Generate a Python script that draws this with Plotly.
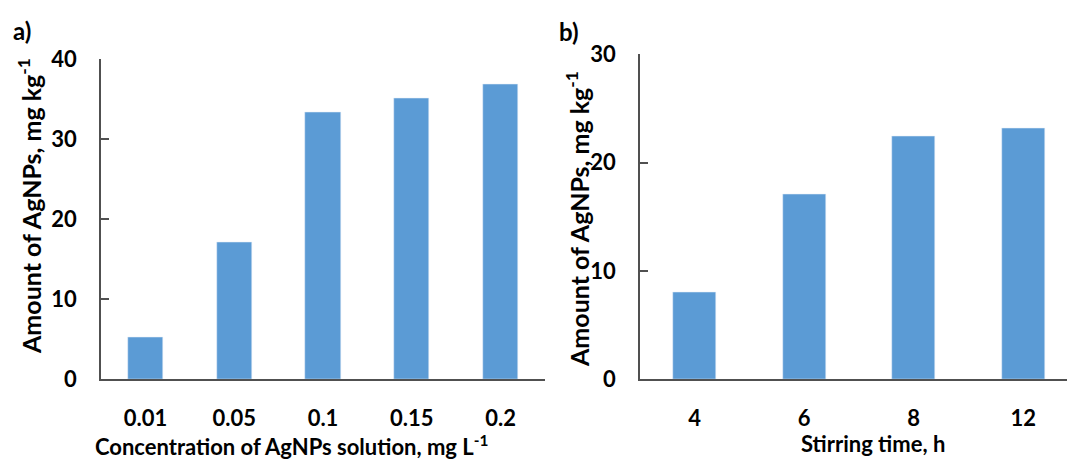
import plotly.graph_objects as go

conc_labels = ["0.01", "0.05", "0.1", "0.15", "0.2"]
conc_values = [5.2, 17.1, 33.4, 35.1, 36.9]

time_labels = ["4", "6", "8", "12"]
time_values = [8.0, 17.1, 22.4, 23.2]

W, H = 1067, 462
BAR = "#5B9BD5"
AX = "#505050"
FONT = "Lato"

def px_x(v):
    return v / W

def px_y(v):
    return 1 - v / H

fig = go.Figure()
fig.add_trace(go.Bar(x=list(range(len(conc_labels))), y=conc_values, marker_color=BAR,
                     width=0.395, xaxis="x", yaxis="y", showlegend=False))
fig.add_trace(go.Bar(x=list(range(len(time_labels))), y=time_values, marker_color=BAR,
                     width=0.395, xaxis="x2", yaxis="y2", showlegend=False))

tickfont = dict(family=FONT, size=22, color="black", weight="bold")
common_x = dict(showline=True, linecolor=AX, linewidth=1.5, ticks="", showgrid=False,
                zeroline=False, tickfont=tickfont, tickmode="array", ticklen=0,
                automargin=False, ticklabelstandoff=19)
common_y = dict(showline=True, linecolor=AX, linewidth=1.5, ticks="inside", ticklen=8,
                tickcolor=AX, tickwidth=1.5, showgrid=False, zeroline=False,
                tickfont=tickfont, dtick=10, automargin=False, ticklabelstandoff=18)

fig.update_layout(
    width=W, height=H,
    margin=dict(l=0, r=0, t=0, b=0),
    plot_bgcolor="white", paper_bgcolor="white",
    xaxis=dict(common_x, domain=[px_x(101), px_x(545)], range=[-0.5, 4.5],
               tickvals=list(range(len(conc_labels))), ticktext=conc_labels, anchor="y"),
    yaxis=dict(common_y, domain=[px_y(379.3), px_y(59.3)], range=[0, 40], anchor="x"),
    xaxis2=dict(common_x, domain=[px_x(640), 1.0], range=[-0.5, 3.4],
                tickvals=list(range(len(time_labels))), ticktext=time_labels, anchor="y2"),
    yaxis2=dict(common_y, domain=[px_y(379.3), px_y(54.3)], range=[0, 30], anchor="x2"),
    bargap=0,
)

def ann(text, x, y, size, angle=0):
    fig.add_annotation(text=text, x=px_x(x), y=px_y(y), xref="paper", yref="paper",
                       showarrow=False, textangle=angle, xanchor="center", yanchor="middle",
                       font=dict(family=FONT, size=size, color="black", weight="bold"))

ann("a)", 22, 30, 24)
ann("b)", 569, 32, 24)
ann("Amount of AgNPs, mg kg<sup>-1</sup>", 29, 206, 25, -90)
ann("Amount of AgNPs, mg kg<sup>-1</sup>", 577, 219, 25, -90)
ann("Concentration of AgNPs solution, mg L<sup>-1</sup>", 291, 445, 22)
ann("Stirring time, h", 873, 443, 22)

fig.write_html("out.html")
